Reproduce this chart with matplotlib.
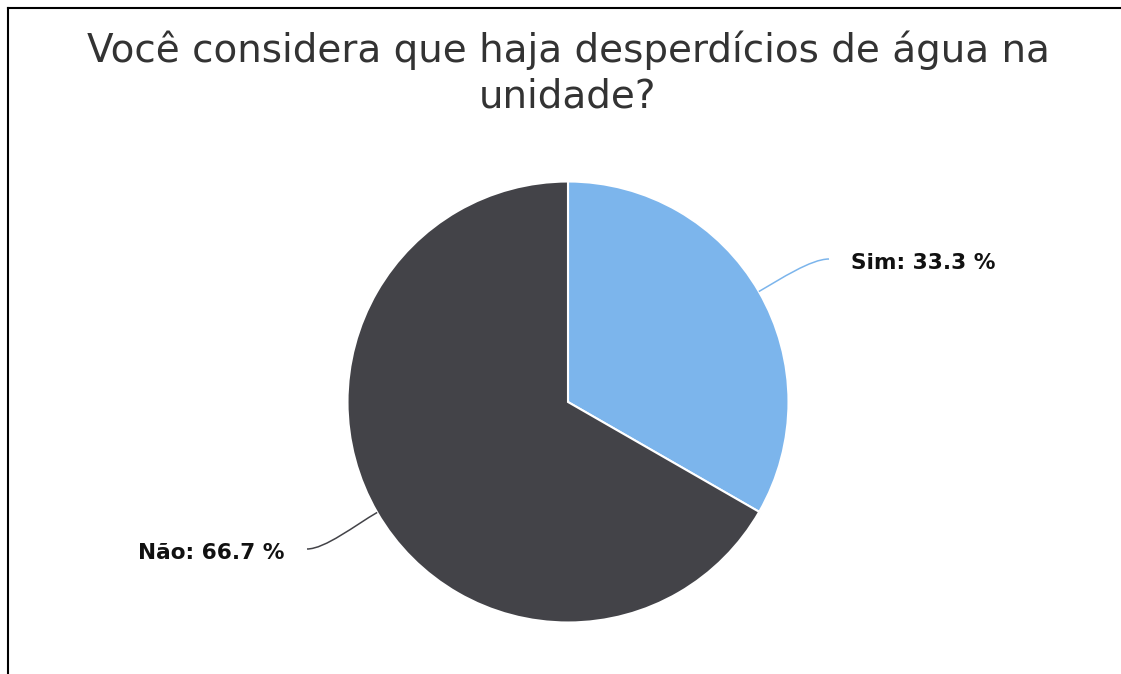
import matplotlib
matplotlib.use("Agg")
import numpy as np
import matplotlib.pyplot as plt
from matplotlib.path import Path
from matplotlib.patches import PathPatch
from matplotlib.lines import Line2D

title_lines = ["Você considera que haja desperdícios de água na", "unidade?"]
categories = ["Sim", "Não"]
values = [33.3, 66.7]
colors = ["#7cb5ec", "#434348"]

W, H = 1121, 674
fig = plt.figure(figsize=(W / 100, H / 100), dpi=100)
ax = fig.add_axes([0, 0, 1, 1])

cx, cy, r = 568, H - 402, 220.5
wedges, _ = ax.pie(values, colors=colors, startangle=90, counterclock=False,
                   center=(cx, cy), radius=r, frame=True,
                   wedgeprops=dict(edgecolor="white", linewidth=1.5))
ax.set_xlim(0, W)
ax.set_ylim(0, H)
ax.set_aspect("equal")
ax.axis("off")

# Data labels with soft connectors
label_pos = {"Sim": (851, H - 263, "left"), "Não": (285, H - 553, "right")}
for w, cat, val, col in zip(wedges, categories, values, colors):
    mid = np.deg2rad((w.theta1 + w.theta2) / 2)
    x0, y0 = cx + r * np.cos(mid), cy + r * np.sin(mid)
    tx, ty, ha = label_pos[cat]
    sign = 1 if ha == "left" else -1
    x3, y3 = tx - sign * 22, ty + 4
    x1, y1 = x0 + 25 * np.cos(mid), y0 + 25 * np.sin(mid)
    x2, y2 = x3 - sign * 18, y3
    path = Path([(x0, y0), (x1, y1), (x2, y2), (x3, y3)],
                [Path.MOVETO, Path.CURVE4, Path.CURVE4, Path.CURVE4])
    ax.add_patch(PathPatch(path, fill=False, edgecolor=col, linewidth=1.1))
    ax.text(tx, ty, f"{cat}: {val:.1f} %", ha=ha, va="center",
            fontsize=15.6, fontweight="bold", color="#111111",
            family="DejaVu Sans")

# Title, one baseline per line
for line, base in zip(title_lines, [62, 108]):
    fig.text(568 / W, 1 - base / H, line, ha="center", va="baseline",
             fontsize=28, color="#333333", family="DejaVu Sans")

# Frame edges
fig.add_artist(Line2D([8 / W, 8 / W], [0, 1 - 7.7 / H], color="black",
                      linewidth=1.5, transform=fig.transFigure))
fig.add_artist(Line2D([7.5 / W, 1], [1 - 7.7 / H, 1 - 7.7 / H], color="black",
                      linewidth=1.5, transform=fig.transFigure))

fig.savefig("out.png", dpi=100, facecolor="white")
